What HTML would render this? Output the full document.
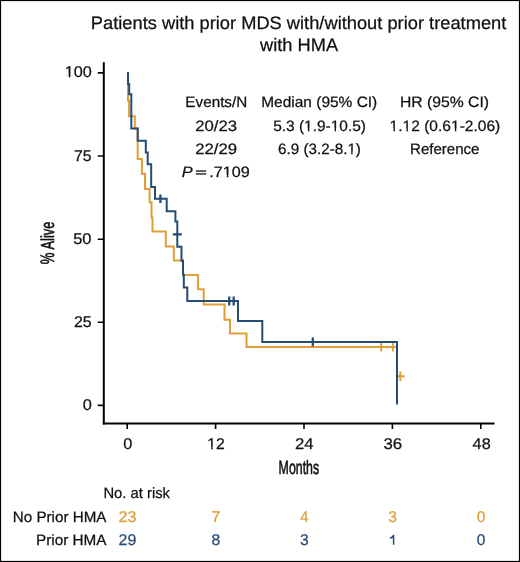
<!DOCTYPE html>
<html>
<head>
<meta charset="utf-8">
<style>
html,body{margin:0;padding:0;background:#fff;}
body{width:520px;height:562px;overflow:hidden;}
svg{display:block;font-family:"Liberation Sans",sans-serif;will-change:transform;text-rendering:geometricPrecision;}
</style>
</head>
<body>
<svg width="520" height="562" viewBox="0 0 520 562">
<rect x="0" y="0" width="520" height="562" fill="#fff"/>
<rect x="0.5" y="0.5" width="519" height="561" fill="none" stroke="#000" stroke-width="1.2"/>
<g stroke="#000" fill="none">
<path d="M103.8,62.3 V424.4" stroke-width="2"/>
<path d="M102.8,423.5 H494.5" stroke-width="2"/>
<path d="M97.8,72.9 H103.8 M97.8,156 H103.8 M97.8,239.2 H103.8 M97.8,322.3 H103.8 M97.8,405.4 H103.8" stroke-width="1.6"/>
<path d="M127.2,424 V429 M215.6,424 V429 M304,424 V429 M392.4,424 V429 M480.8,424 V429" stroke-width="1.6"/>
</g>
<g fill="none" stroke-width="2" stroke-linejoin="miter" stroke-linecap="butt">
<path stroke="#E09E38" d="M128,72 V100.5 H129.1 V116.2 H134.8 V128.5 H137.7 V158.9 H141.9 V173.8 H145 V188.9 H149.6 V202.3 H151.5 V217.5 H152.5 V231.5 H165.8 V246.5 H173.8 V260.4 H183 V275 H198.1 V289.2 H203.7 V304.6 H224.5 V319.7 H230 V333.6 H246.5 V347 H397 V376.3 H400.3"/>
<path stroke="#E09E38" d="M381.2,342 V351.4 M392.8,342 V351.4 M400.3,371.6 V381 M396,376.3 H404.8"/>
<path stroke="#254C75" d="M128,72 V84 H129.2 V94.3 H131.3 V128.5 H137.7 V140.8 H145.8 V152.5 H147.7 V164.3 H151.2 V186.9 H155 V198.7 H166.7 V211.3 H175.4 V221.5 H177.3 V246.7 H181.5 V260.8 H183 V274.6 H183.8 V287.5 H187.3 V301.1 H238 V321.1 H262.3 V342 H397 V404.5"/>
<path stroke="#254C75" stroke-width="2.3" d="M160.4,194.4 V203 M172.8,234.3 H181.8 M229.2,296.6 V305.4 M233.7,296.6 V305.4 M312.8,337.4 V346.2"/>
</g>
<text x="90.81" y="28.80" font-size="18" fill="#111" textLength="415.51" lengthAdjust="spacingAndGlyphs" stroke="#111" stroke-width="0.25">Patients with prior MDS with/without prior treatment</text>
<text x="260.03" y="51.20" font-size="18" fill="#111" textLength="78.03" lengthAdjust="spacingAndGlyphs" stroke="#111" stroke-width="0.25">with HMA</text>
<text x="185.36" y="106.80" font-size="15" fill="#111" textLength="61.89" lengthAdjust="spacingAndGlyphs" stroke="#111" stroke-width="0.25">Events/N</text>
<text x="195.16" y="130.50" font-size="15" fill="#111" textLength="41.86" lengthAdjust="spacingAndGlyphs" stroke="#111" stroke-width="0.25">20/23</text>
<text x="195.16" y="153.60" font-size="15" fill="#111" textLength="41.91" lengthAdjust="spacingAndGlyphs" stroke="#111" stroke-width="0.25">22/29</text>
<text x="181.79" y="176.50" font-size="15" fill="#111" textLength="10.91" lengthAdjust="spacingAndGlyphs" font-style="italic" stroke="#111" stroke-width="0.25">P</text>
<rect x="195.8" y="170.4" width="10.4" height="1.3" fill="#111"/><rect x="195.8" y="173.3" width="10.4" height="1.3" fill="#111"/>
<text x="209.33" y="176.50" font-size="15" fill="#111" textLength="40.52" lengthAdjust="spacingAndGlyphs" stroke="#111" stroke-width="0.25">.7109</text>
<text x="261.24" y="106.80" font-size="15" fill="#111" textLength="116.02" lengthAdjust="spacingAndGlyphs" stroke="#111" stroke-width="0.25">Median (95% CI)</text>
<text x="273.17" y="130.50" font-size="15" fill="#111" textLength="92.80" lengthAdjust="spacingAndGlyphs" stroke="#111" stroke-width="0.25">5.3 (1.9-10.5)</text>
<text x="278.01" y="153.60" font-size="15" fill="#111" textLength="82.94" lengthAdjust="spacingAndGlyphs" stroke="#111" stroke-width="0.25">6.9 (3.2-8.1)</text>
<text x="400.02" y="106.80" font-size="15" fill="#111" textLength="88.96" lengthAdjust="spacingAndGlyphs" stroke="#111" stroke-width="0.25">HR (95% CI)</text>
<text x="389.61" y="130.50" font-size="15" fill="#111" textLength="110.66" lengthAdjust="spacingAndGlyphs" stroke="#111" stroke-width="0.25">1.12 (0.61-2.06)</text>
<text x="410.08" y="153.60" font-size="15" fill="#111" textLength="69.38" lengthAdjust="spacingAndGlyphs" stroke="#111" stroke-width="0.25">Reference</text>
<text x="64.76" y="77.40" font-size="15.5" fill="#111" textLength="27.07" lengthAdjust="spacingAndGlyphs" stroke="#111" stroke-width="0.25">100</text>
<text x="74.09" y="160.70" font-size="15.5" fill="#111" textLength="17.47" lengthAdjust="spacingAndGlyphs" stroke="#111" stroke-width="0.25">75</text>
<text x="73.23" y="243.90" font-size="15.5" fill="#111" textLength="18.31" lengthAdjust="spacingAndGlyphs" stroke="#111" stroke-width="0.25">50</text>
<text x="73.91" y="326.90" font-size="15.5" fill="#111" textLength="17.66" lengthAdjust="spacingAndGlyphs" stroke="#111" stroke-width="0.25">25</text>
<text x="82.86" y="409.80" font-size="15.5" fill="#111" textLength="9.07" lengthAdjust="spacingAndGlyphs" stroke="#111" stroke-width="0.25">0</text>
<text x="123.16" y="448.80" font-size="15.5" fill="#111" textLength="9.07" lengthAdjust="spacingAndGlyphs" stroke="#111" stroke-width="0.25">0</text>
<text x="207.30" y="448.80" font-size="15.5" fill="#111" textLength="17.49" lengthAdjust="spacingAndGlyphs" stroke="#111" stroke-width="0.25">12</text>
<text x="294.96" y="448.80" font-size="15.5" fill="#111" textLength="18.63" lengthAdjust="spacingAndGlyphs" stroke="#111" stroke-width="0.25">24</text>
<text x="383.54" y="448.80" font-size="15.5" fill="#111" textLength="18.69" lengthAdjust="spacingAndGlyphs" stroke="#111" stroke-width="0.25">36</text>
<text x="472.62" y="448.80" font-size="15.5" fill="#111" textLength="18.09" lengthAdjust="spacingAndGlyphs" stroke="#111" stroke-width="0.25">48</text>
<text x="278.60" y="474.30" font-size="19.2" fill="#111" textLength="40.54" lengthAdjust="spacingAndGlyphs" stroke="#111" stroke-width="0.6">Months</text>
<text transform="translate(54.2,263.8) rotate(-90)" x="-0.47" y="0" font-size="19.5" fill="#111" stroke="#111" stroke-width="0.6" textLength="11.75" lengthAdjust="spacingAndGlyphs">%</text>
<text transform="translate(54.2,249.4) rotate(-90)" x="-0.02" y="0" font-size="18.8" fill="#111" stroke="#111" stroke-width="0.6" textLength="27.68" lengthAdjust="spacingAndGlyphs">Alive</text>
<text x="103.40" y="498.20" font-size="15" fill="#111" textLength="66.57" lengthAdjust="spacingAndGlyphs" stroke="#111" stroke-width="0.25">No. at risk</text>
<text x="12.77" y="521.90" font-size="15" fill="#111" textLength="93.69" lengthAdjust="spacingAndGlyphs" stroke="#111" stroke-width="0.25">No Prior HMA</text>
<text x="35.96" y="544.80" font-size="15" fill="#111" textLength="70.50" lengthAdjust="spacingAndGlyphs" stroke="#111" stroke-width="0.25">Prior HMA</text>
<text x="118.50" y="521.60" font-size="15.5" fill="#E09E38" textLength="17.91" lengthAdjust="spacingAndGlyphs" stroke="#E09E38" stroke-width="0.25">23</text>
<text x="118.60" y="544.70" font-size="15.5" fill="#254C75" textLength="17.74" lengthAdjust="spacingAndGlyphs" stroke="#254C75" stroke-width="0.25">29</text>
<text x="211.36" y="521.60" font-size="15.5" fill="#E09E38" textLength="9.05" lengthAdjust="spacingAndGlyphs" stroke="#E09E38" stroke-width="0.25">7</text>
<text x="211.51" y="544.70" font-size="15.5" fill="#254C75" textLength="8.78" lengthAdjust="spacingAndGlyphs" stroke="#254C75" stroke-width="0.25">8</text>
<text x="300.26" y="521.60" font-size="15.5" fill="#E09E38" textLength="8.18" lengthAdjust="spacingAndGlyphs" stroke="#E09E38" stroke-width="0.25">4</text>
<text x="299.99" y="544.70" font-size="15.5" fill="#254C75" textLength="8.69" lengthAdjust="spacingAndGlyphs" stroke="#254C75" stroke-width="0.25">3</text>
<text x="388.39" y="521.60" font-size="15.5" fill="#E09E38" textLength="8.69" lengthAdjust="spacingAndGlyphs" stroke="#E09E38" stroke-width="0.25">3</text>
<path d="M393.6,534.8 V544.7 M393.6,535.2 C393,537 391.8,537.8 390,538.1" stroke="#254C75" stroke-width="1.5" fill="none"/>
<text x="476.80" y="521.60" font-size="15.5" fill="#E09E38" textLength="8.61" lengthAdjust="spacingAndGlyphs" stroke="#E09E38" stroke-width="0.25">0</text>
<text x="476.80" y="544.70" font-size="15.5" fill="#254C75" textLength="8.61" lengthAdjust="spacingAndGlyphs" stroke="#254C75" stroke-width="0.25">0</text>
<g><rect x="222.98" y="174.48" width="3.84" height="3.72" fill="#fff"/><rect x="228.41" y="174.48" width="3.43" height="3.72" fill="#fff"/><rect x="304.23" y="128.48" width="3.67" height="3.72" fill="#fff"/><rect x="309.42" y="128.48" width="3.27" height="3.72" fill="#fff"/><rect x="330.88" y="128.48" width="3.67" height="3.72" fill="#fff"/><rect x="336.07" y="128.48" width="3.27" height="3.72" fill="#fff"/><rect x="347.54" y="151.58" width="3.61" height="3.72" fill="#fff"/><rect x="352.65" y="151.58" width="3.23" height="3.72" fill="#fff"/><rect x="389.76" y="128.48" width="3.68" height="3.72" fill="#fff"/><rect x="394.97" y="128.48" width="3.29" height="3.72" fill="#fff"/><rect x="402.72" y="128.48" width="3.69" height="3.72" fill="#fff"/><rect x="407.94" y="128.48" width="3.29" height="3.72" fill="#fff"/><rect x="451.13" y="128.48" width="3.69" height="3.72" fill="#fff"/><rect x="456.35" y="128.48" width="3.29" height="3.72" fill="#fff"/><rect x="64.92" y="75.34" width="3.84" height="3.76" fill="#fff"/><rect x="70.35" y="75.34" width="3.43" height="3.76" fill="#fff"/><rect x="207.45" y="446.74" width="3.72" height="3.76" fill="#fff"/><rect x="212.72" y="446.74" width="3.32" height="3.76" fill="#fff"/></g>
</svg>
</body>
</html>
